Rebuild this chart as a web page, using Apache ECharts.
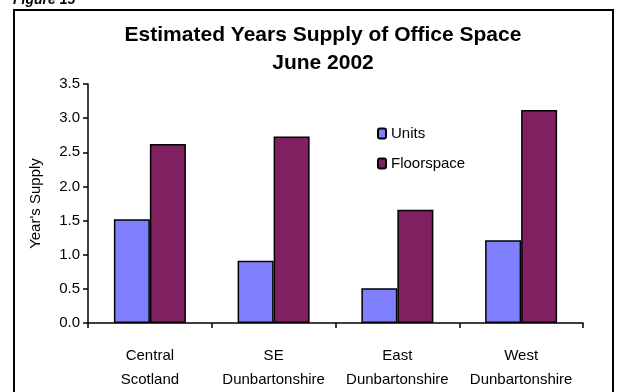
<!DOCTYPE html>
<html>
<head>
<meta charset="utf-8">
<script src="https://cdn.jsdelivr.net/npm/echarts@6/dist/echarts.min.js"></script>
<style>
    html, body { margin: 0; padding: 0; background: #fff; }
    #chart { width: 629px; height: 392px; }
</style>
</head>
<body>
<div id="chart"></div>
<script>
// areas along the x axis
var categories = ['Central\nScotland', 'SE\nDunbartonshire', 'East\nDunbartonshire', 'West\nDunbartonshire'];
// years supply
var units = [1.52, 0.91, 0.51, 1.21];
var floorspace = [2.62, 2.73, 1.66, 3.12];
var yTicks = [0, 0.5, 1, 1.5, 2, 2.5, 3, 3.5];

var font = 'Liberation Sans, Arial, sans-serif';
var myChart = echarts.init(document.getElementById('chart'));

var option = {
    backgroundColor: '#fff',
    textStyle: { fontFamily: font },
    graphic: [
        {
            type: 'rect',
            shape: { x: 14, y: 10, width: 599, height: 400 },
            style: { fill: 'none', stroke: '#000', lineWidth: 2 },
            silent: true
        },
        {
            type: 'text',
            left: 13,
            top: -7,
            style: {
                text: 'Figure 15',
                font: 'italic bold 14px ' + font,
                fill: '#000'
            }
        }
    ],
    title: {
        text: 'Estimated Years Supply of Office Space\nJune 2002',
        left: 318,
        textAlign: 'center',
        top: 16,
        textStyle: {
            fontFamily: font,
            fontSize: 21,
            fontWeight: 'bold',
            lineHeight: 28,
            color: '#000'
        }
    },
    legend: {
        orient: 'vertical',
        left: 372,
        top: 121,
        itemWidth: 8,
        itemHeight: 10,
        itemGap: 15,
        textStyle: { fontFamily: font, fontSize: 15, color: '#000' },
        data: ['Units', 'Floorspace']
    },
    grid: {
        left: 88,
        right: 46,
        top: 84,
        bottom: 67
    },
    xAxis: {
        type: 'category',
        data: categories,
        axisLine: { lineStyle: { color: '#000', width: 1.5 } },
        axisTick: { show: true, length: 5, lineStyle: { color: '#000', width: 1.5 } },
        axisLabel: {
            interval: 0,
            margin: 21,
            fontFamily: font,
            fontSize: 15,
            lineHeight: 24,
            color: '#000'
        }
    },
    yAxis: {
        type: 'value',
        min: yTicks[0],
        max: yTicks[yTicks.length - 1],
        interval: 0.5,
        name: "Year's Supply",
        nameLocation: 'middle',
        nameGap: 45,
        nameTextStyle: { fontFamily: font, fontSize: 15, color: '#000' },
        splitLine: { show: false },
        axisLine: { show: true, lineStyle: { color: '#000', width: 1.5 } },
        axisTick: { show: true, length: 5, lineStyle: { color: '#000', width: 1.5 } },
        axisLabel: {
            margin: 8,
            fontFamily: font,
            fontSize: 15,
            color: '#000',
            formatter: function (v) {
                return v.toFixed(1);
            }
        }
    },
    series: [
        {
            name: 'Units',
            type: 'bar',
            data: units,
            barWidth: 36,
            barGap: '0%',
            itemStyle: { color: '#8080ff', borderColor: '#000', borderWidth: 1.5 }
        },
        {
            name: 'Floorspace',
            type: 'bar',
            data: floorspace,
            barWidth: 36,
            itemStyle: { color: '#802060', borderColor: '#000', borderWidth: 1.5 }
        }
    ],
    animation: false
};

myChart.setOption(option);
</script>
</body>
</html>
